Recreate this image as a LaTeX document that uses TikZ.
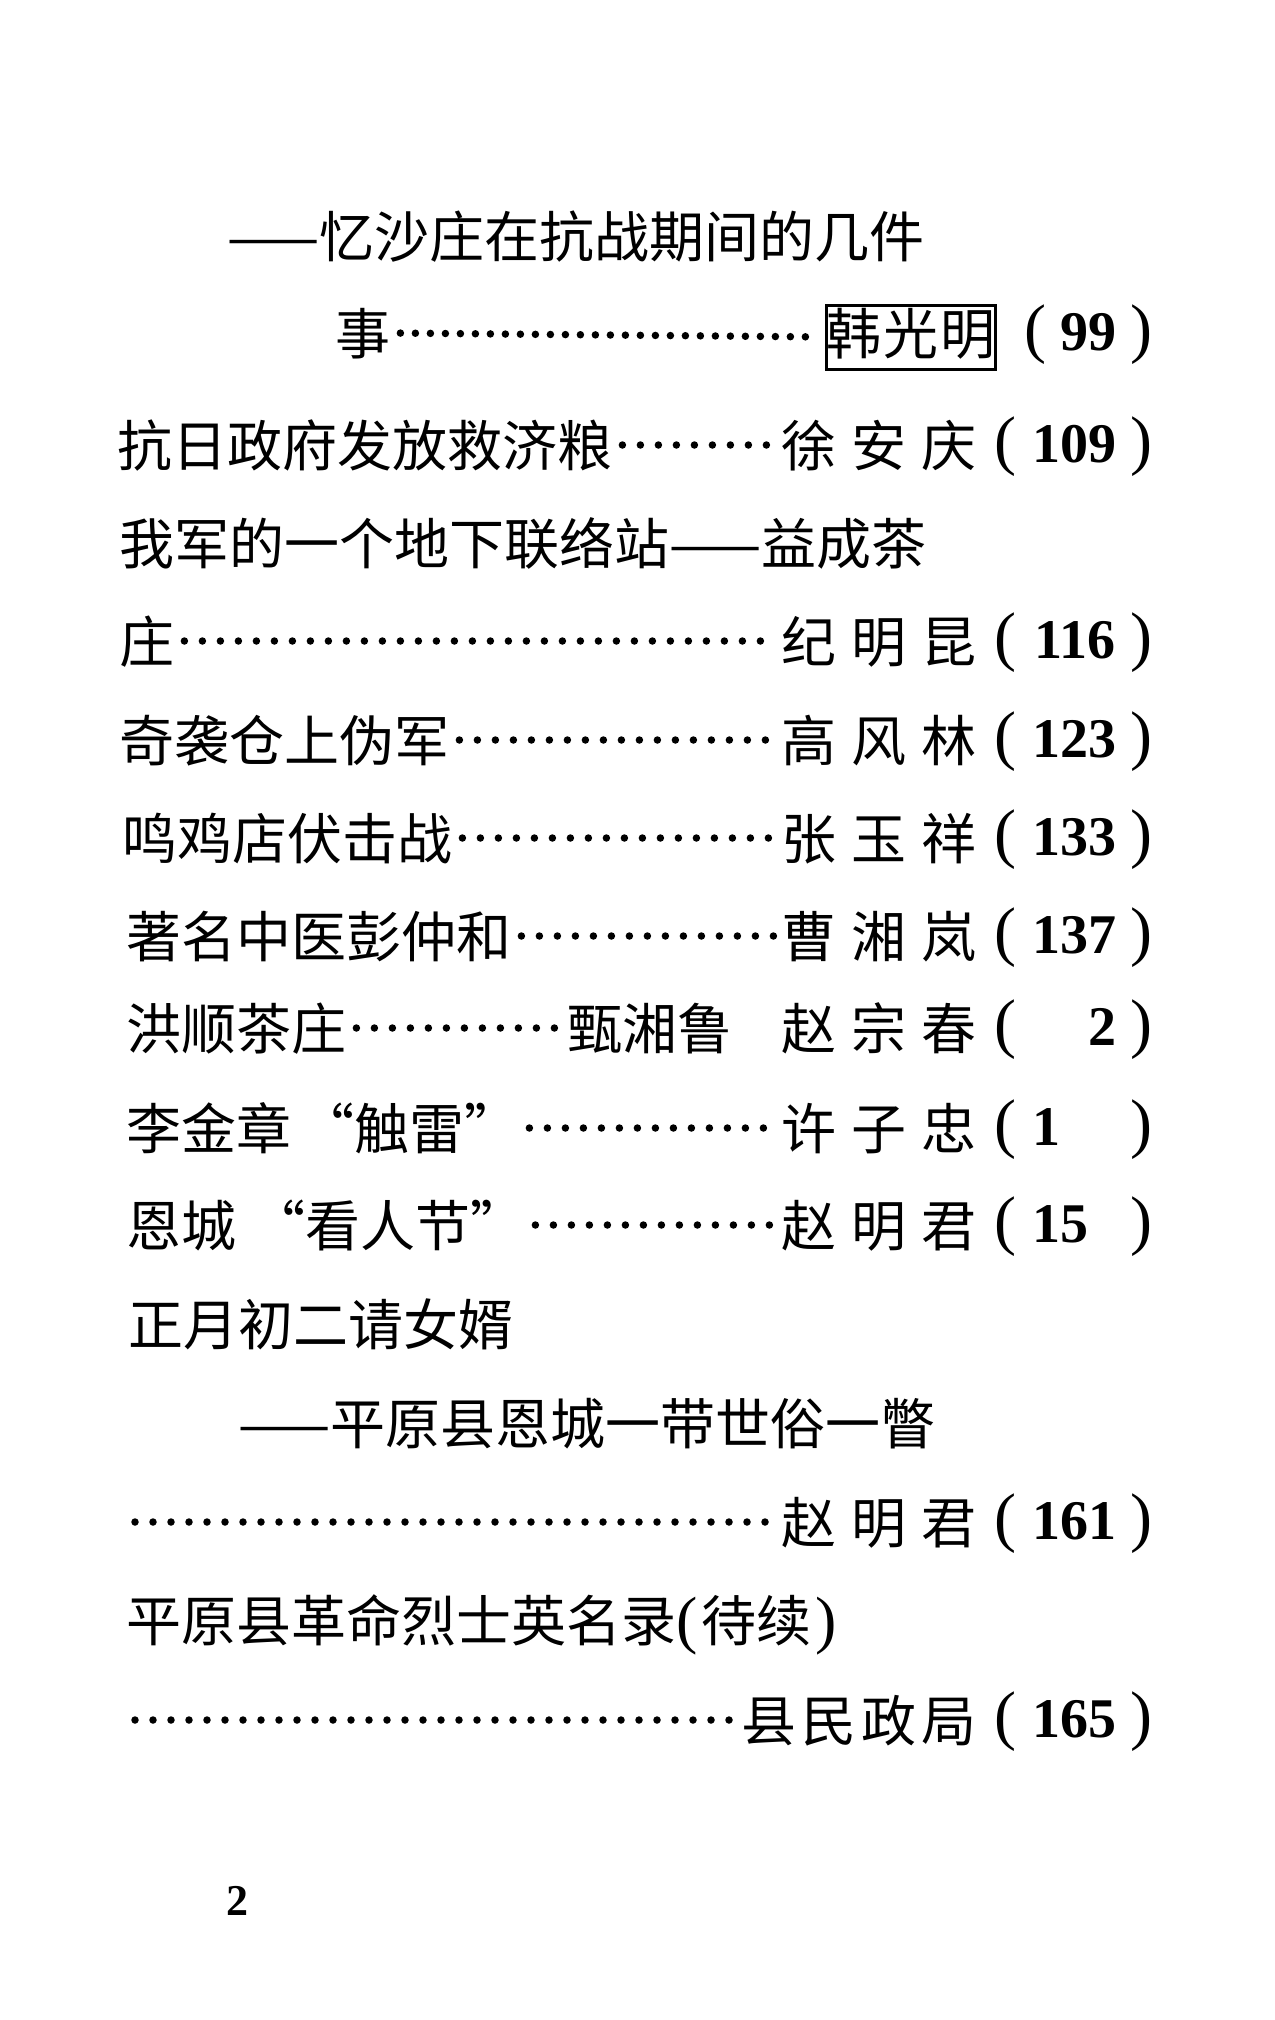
\documentclass[tikz,border=0pt]{standalone}
\usepackage{fontspec}
\newfontfamily\cjk{Noto Sans CJK SC}
\newfontfamily\numfont{Liberation Serif}
\tikzset{entry/.style = {inner sep=0, text height=42pt, text depth=0pt, font=\cjk\fontsize{55}{60}\selectfont}}
\tikzset{framed/.style = {entry, draw, line width=3pt, inner xsep=0pt, inner ysep=7pt, text depth=8pt}}
\tikzset{leader/.style = {line width=7.5pt, line cap=round, dash pattern=on 0pt off 18pt, shorten <=10pt, shorten >=8pt}}
\tikzset{pgno/.style = {inner sep=0, font=\numfont\fontsize{56}{60}\selectfont}}
\newcommand{\nm}[3]{#1\kern15pt#2\kern15pt#3}
\newcommand{\pg}[3][16pt]{{\fontsize{66}{70}\selectfont(}\kern#1\makebox[84pt][#2]{\bfseries#3}\kern14pt{\fontsize{66}{70}\selectfont)}}
\usetikzlibrary{positioning}

\begin{document}
\begin{tikzpicture}[x=1pt,y=-1pt]
\useasboundingbox (0,0) rectangle (1274,2020);
\fill[white] (0,0) rectangle (1274,2020);
\node[entry, anchor=base west] (t1) at (227,257) {——忆沙庄在抗战期间的几件};
\node[entry, anchor=base west] (t2) at (335,354) {事};
\node[framed, anchor=base east] (a2) at (997,354) {韩\kern2pt光\kern2pt明};
\node[pgno, anchor=base east] (p2) at (1153,350) {\pg[-14pt]{r}{99}};
\draw[leader, dash pattern=on 0pt off 15pt, shorten >=6pt] (t2.east) -- (a2.west);
\node[entry, anchor=base west] (t3) at (117,466) {抗日政府发放救济粮};
\node[entry, anchor=base east] (a3) at (977,466) {\nm{徐}{安}{庆}};
\node[pgno, anchor=base east] (p3) at (1153,462) {\pg{c}{109}};
\draw[leader] (t3.east) -- (a3.west);
\node[entry, anchor=base west] (t4) at (119,564) {我军的一个地下联络站——益成茶};
\node[entry, anchor=base west] (t5) at (119,662) {庄};
\node[entry, anchor=base east] (a5) at (977,662) {\nm{纪}{明}{昆}};
\node[pgno, anchor=base east] (p5) at (1153,658) {\pg{c}{116}};
\draw[leader] (t5.east) -- (a5.west);
\node[entry, anchor=base west] (t6) at (119,761) {奇袭仓上伪军};
\node[entry, anchor=base east] (a6) at (977,761) {\nm{高}{风}{林}};
\node[pgno, anchor=base east] (p6) at (1153,757) {\pg{c}{123}};
\draw[leader] (t6.east) -- (a6.west);
\node[entry, anchor=base west] (t7) at (122,859) {鸣鸡店伏击战};
\node[entry, anchor=base east] (a7) at (977,859) {\nm{张}{玉}{祥}};
\node[pgno, anchor=base east] (p7) at (1153,855) {\pg{c}{133}};
\draw[leader] (t7.east) -- (a7.west);
\node[entry, anchor=base west] (t8) at (126,957) {著名中医彭仲和};
\node[entry, anchor=base east] (a8) at (977,957) {\nm{曹}{湘}{岚}};
\node[pgno, anchor=base east] (p8) at (1153,953) {\pg{c}{137}};
\draw[leader] (t8.east) -- (a8.west);
\node[entry, anchor=base west] (t9) at (126,1049) {洪顺茶庄};
\node[entry, anchor=base west] (c9) at (567,1049) {甄湘鲁};
\node[entry, anchor=base east] (a9) at (977,1049) {\nm{赵}{宗}{春}};
\node[pgno, anchor=base east] (p9) at (1153,1045) {\pg{r}{2}};
\draw[leader] (t9.east) -- (c9.west);
\node[entry, anchor=base west] (t10) at (126,1149) {李金章\kern8pt“触雷”};
\node[entry, anchor=base east] (a10) at (977,1149) {\nm{许}{子}{忠}};
\node[pgno, anchor=base east] (p10) at (1153,1145) {\pg{l}{1}};
\draw[leader] (t10.east) -- (a10.west);
\node[entry, anchor=base west] (t11) at (126,1246) {恩城\kern14pt“看人节”};
\node[entry, anchor=base east] (a11) at (977,1246) {\nm{赵}{明}{君}};
\node[pgno, anchor=base east] (p11) at (1153,1242) {\pg{l}{15}};
\draw[leader] (t11.east) -- (a11.west);
\node[entry, anchor=base west] (t12) at (128,1345) {正月初二请女婿};
\node[entry, anchor=base west] (t13) at (238,1444) {——平原县恩城一带世俗一瞥};
\coordinate (s14) at (125,1522);
\node[entry, anchor=base east] (a14) at (977,1543) {\nm{赵}{明}{君}};
\node[pgno, anchor=base east] (p14) at (1153,1539) {\pg{c}{161}};
\draw[leader] (s14) -- (a14.west);
\node[entry, anchor=base west] (t15) at (126,1641) {平原县革命烈士英名录{\numfont\fontsize{64}{70}\selectfont(}\kern4pt待续\kern4pt{\numfont\fontsize{64}{70}\selectfont)}};
\coordinate (s16) at (125,1720);
\node[entry, anchor=base east] (a16) at (977,1741) {县\kern5pt民\kern5pt政\kern5pt局};
\node[pgno, anchor=base east] (p16) at (1153,1737) {\pg{c}{165}};
\draw[leader] (s16) -- (a16.west);
\node[pgno, anchor=base west, font=\numfont\bfseries\fontsize{44}{48}\selectfont] (n) at (226,1915) {2};
\end{tikzpicture}
\end{document}
